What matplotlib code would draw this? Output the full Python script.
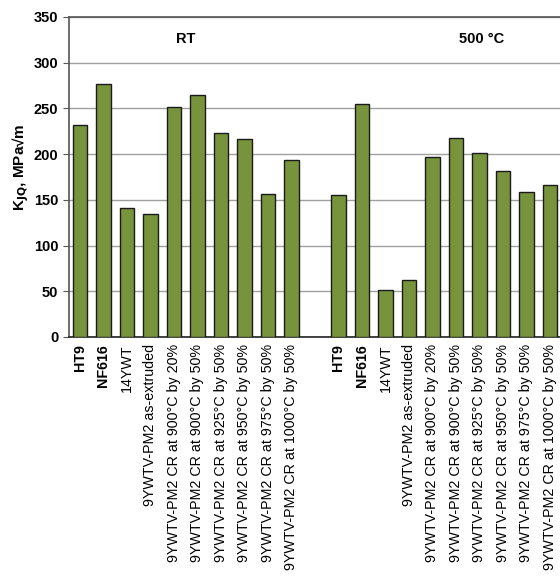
import matplotlib.pyplot as plt

plt.rcParams['font.family'] = ['Liberation Sans', 'DejaVu Sans']

materials = ["HT9", "NF616", "14YWT", "9YWTV-PM2 as-extruded",
             "9YWTV-PM2 CR at 900°C by 20%", "9YWTV-PM2 CR at 900°C by 50%",
             "9YWTV-PM2 CR at 925°C by 50%", "9YWTV-PM2 CR at 950°C by 50%",
             "9YWTV-PM2 CR at 975°C by 50%", "9YWTV-PM2 CR at 1000°C by 50%"]
kjq_rt = [232, 277, 141, 135, 252, 265, 223, 217, 156, 193]
kjq_500 = [155, 255, 51, 62, 197, 218, 201, 181, 158, 166]
group_titles = ["RT", "500 °C"]

pos_rt = list(range(len(materials)))
pos_500 = [p + len(materials) + 1 for p in pos_rt]

fig = plt.figure(figsize=(5.6, 5.83), dpi=100)
ax = fig.add_axes([0.123, 0.422, 0.877, 0.549])

ax.bar(pos_rt, kjq_rt, width=0.62, color='#77933c', edgecolor='#1a1a1a', linewidth=1, zorder=3)
ax.bar(pos_500, kjq_500, width=0.62, color='#77933c', edgecolor='#1a1a1a', linewidth=1, zorder=3)

ax.set_xlim(-0.47, 20.43)
ax.set_ylim(0, 350)
ax.set_yticks(range(0, 351, 50))
ax.yaxis.grid(True, color='#a0a0a0', linewidth=1, zorder=0)

ax.set_xticks(pos_rt + pos_500)
ax.set_xticklabels(materials + materials, rotation=90, fontsize=10.3)
for lbl in ax.get_xticklabels():
    if lbl.get_text() in ("HT9", "NF616"):
        lbl.set_fontweight('bold')
ax.tick_params(axis='x', length=0, pad=5)
ax.tick_params(axis='y', length=4, labelsize=10.5, color='#555555')
for lbl in ax.get_yticklabels():
    lbl.set_fontweight('bold')

for s in ['left', 'top']:
    ax.spines[s].set_color('#555555')
    ax.spines[s].set_linewidth(1.2)
ax.spines['bottom'].set_color('#222222')
ax.spines['bottom'].set_linewidth(1.2)
ax.spines['right'].set_visible(False)

ax.set_ylabel("K$_\\mathbf{JQ}$, MPa√m", fontsize=11, fontweight='bold')
ax.yaxis.set_label_coords(-0.078, 0.53)

ax.text(4.5, 326, group_titles[0], ha='center', va='center', fontsize=10.5, fontweight='bold')
ax.text(17.1, 326, group_titles[1], ha='center', va='center', fontsize=10.5, fontweight='bold')

fig.savefig('out.png', dpi=100)
